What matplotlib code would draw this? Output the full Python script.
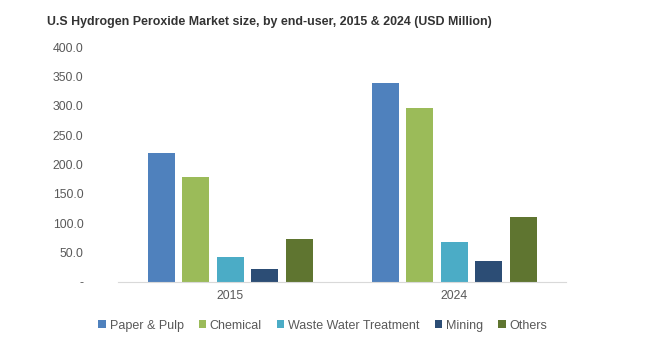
import matplotlib.pyplot as plt
import numpy as np

plt.rcParams['font.family'] = ['Liberation Sans', 'DejaVu Sans']

# Data
years = ['2015', '2024']
segments = ['Paper & Pulp', 'Chemical', 'Waste Water Treatment', 'Mining', 'Others']
paper_pulp = [219, 338]
chemical = [178, 296]
waste_water = [42, 68]
mining = [21.5, 36]
others = [73.5, 111]
values = [paper_pulp, chemical, waste_water, mining, others]
colors = ['#4F81BD', '#9BBB59', '#4BACC6', '#2C4D75', '#5F7530']
y_ticks = [0, 50, 100, 150, 200, 250, 300, 350, 400]

fig = plt.figure(figsize=(6.6, 3.62), dpi=100)
ax = fig.add_axes([0.179, 0.221, 0.679, 0.649])

x = np.arange(len(years))
slot = 0.154
width = 0.12
for i, (name, vals) in enumerate(zip(segments, values)):
    ax.bar(x + (i - 2) * slot, vals, width, color=colors[i], label=name)

ax.set_xlim(-0.5, 1.5)
ax.set_ylim(0, 400)
ax.set_xticks(x)
ax.set_xticklabels(years)
ax.set_yticks(y_ticks)
ax.set_yticklabels(['-' if t == 0 else f'{t:.1f}' for t in y_ticks])
ax.tick_params(axis='both', length=0, labelsize=8.8, colors='#595959', pad=6)
ax.tick_params(axis='y', pad=25)

for s in ['top', 'right', 'left']:
    ax.spines[s].set_visible(False)
ax.spines['bottom'].set_color('#D9D9D9')

fig.text(0.071, 0.94, 'U.S Hydrogen Peroxide Market size, by end-user, 2015 & 2024 (USD Million)',
         fontsize=8.9, fontweight='bold', color='#333333', va='center')

fig.legend(loc='center', bbox_to_anchor=(0.489, 0.1), ncol=5, frameon=False,
           fontsize=9.0, handlelength=0.6, handleheight=0.6, handletextpad=0.3,
           columnspacing=1.2, labelcolor='#595959')

fig.savefig('out.png', dpi=100)
